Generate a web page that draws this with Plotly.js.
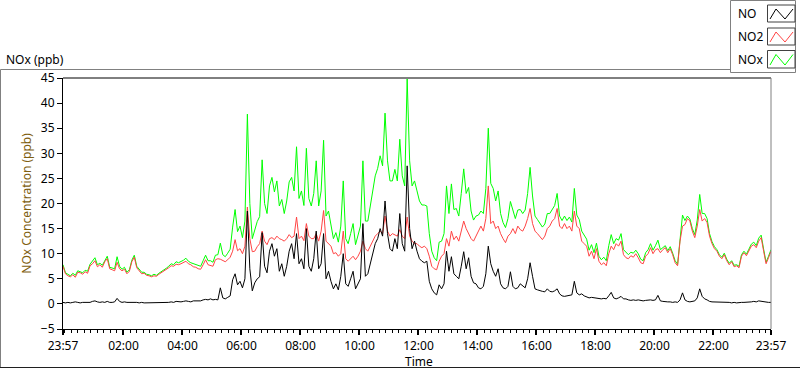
<!DOCTYPE html>
<html><head><meta charset="utf-8">
<script src="https://cdn.plot.ly/plotly-3.0.1.min.js"></script>
<style>html,body{margin:0;padding:0;background:#fff;}#chart{width:800px;height:369px;}</style>
</head><body><div id="chart"></div>
<script>
// ---- data (5-minute samples starting 23:57) ----
const startTime = Date.UTC(2000,0,1,23,57);
const stepMinutes = 5;

const seriesNames = ['NO','NO2','NOx'];

const noValues = [
0.3,0.2,0.3,0.2,0.3,0.4,0.3,0.2,0.3,0.3,
0.4,0.3,0.5,0.6,0.4,0.3,0.4,0.3,0.5,0.3,
0.3,0.4,1.1,0.5,0.3,0.4,0.3,0.3,0.3,0.4,
0.3,0.2,0.3,0.2,0.2,0.2,0.2,0.3,0.2,0.2,
0.2,0.3,0.2,0.3,0.4,0.3,0.5,0.4,0.4,0.5,
0.6,0.5,0.4,0.6,0.6,0.7,0.6,0.8,0.9,0.8,
1.0,0.8,
0.9,0.8,3.2,1.2,1.0,1.3,1.6,4.8,6.0,3.8,
4.5,3.2,5.0,18.5,7.0,2.6,4.2,5.0,5.4,14.2,
7.5,6.2,10.5,12.0,9.5,11.0,6.5,8.0,5.5,7.5,
10.5,12.0,9.0,14.0,8.0,9.0,7.0,15.0,7.5,
6.5,9.0,14.5,7.0,8.0,14.0,5.0,6.5,4.5,3.0,
4.0,2.8,5.5,10.0,4.0,3.5,5.0,6.5,3.0,4.0,
5.0,16.0,5.5,6.0,8.0,10.5,12.0,13.0,15.0,13.5,
20.5,14.0,11.0,10.5,13.0,11.0,18.0,12.0,10.5,27.5,
15.0,11.0,12.5,10.5,9.0,8.5,8.2,8.5,4.5,3.0,
2.2,1.8,3.8,3.0,4.0,10.5,6.5,9.4,6.0,5.5,
5.0,7.5,10.4,7.0,9.2,5.5,4.2,4.0,3.2,3.0,
3.5,6.0,11.5,8.0,6.5,5.5,7.0,4.0,3.2,3.0,
3.5,6.4,3.5,3.0,3.2,4.0,3.5,3.2,5.0,8.2,
5.5,3.0,2.8,2.6,2.5,2.4,3.0,2.5,2.4,2.6,
3.0,2.0,1.6,1.5,1.6,1.8,1.8,4.5,2.2,1.8,
2.0,1.6,1.4,1.2,1.3,1.2,1.1,1.0,1.0,1.1,
1.0,1.6,2.3,1.2,1.0,1.2,1.5,1.0,1.0,0.8,
0.7,0.8,0.7,0.8,0.7,0.6,0.7,0.8,0.8,0.7,
0.8,1.7,0.6,0.5,0.4,0.4,0.4,0.3,0.4,0.3,
0.8,2.2,0.8,0.5,0.4,0.5,0.6,1.2,3.0,1.5,
1.0,0.8,0.5,0.4,0.4,0.3,0.3,0.3,0.3,0.3,
0.3,0.2,0.3,0.2,0.3,0.3,0.3,0.3,0.4,0.4,
0.5,0.4,0.6,0.5,0.4,0.3,0.3,0.3
];

const no2Values = [
7.5,6.0,5.6,5.4,5.8,5.3,6.3,6.2,5.9,6.4,
6.1,7.6,8.0,8.6,7.4,7.8,7.3,8.4,9.0,7.0,
6.8,6.6,8.3,7.0,6.6,6.9,6.0,6.5,8.4,9.3,
7.2,6.6,6.0,6.1,5.7,5.6,5.4,5.6,5.5,5.9,
6.2,6.5,6.9,7.2,7.6,7.5,7.9,7.8,8.0,8.2,
8.5,8.0,7.8,7.4,7.3,7.0,6.9,7.8,8.8,7.8,
7.6,7.5,
8.8,9.0,8.9,8.6,8.4,8.8,9.3,10.5,12.8,10.6,
11.0,10.0,11.5,19.3,13.0,10.4,10.5,11.4,12.0,14.5,
12.5,11.8,13.0,13.2,12.8,13.5,13.0,12.8,12.5,13.0,
13.8,13.2,13.5,17.3,13.0,13.5,12.6,16.0,13.5,
13.0,13.0,14.0,12.5,14.5,18.6,12.5,12.0,11.5,10.0,
10.2,9.5,10.0,14.5,9.0,8.5,9.0,9.5,8.8,9.5,
10.5,12.5,11.0,10.5,11.5,12.5,13.5,14.0,14.5,14.0,
17.5,14.5,13.5,14.0,13.8,13.5,14.8,13.5,13.0,17.3,
13.5,12.5,12.0,12.0,11.5,11.2,11.5,11.0,9.5,7.5,
7.0,6.8,8.5,9.5,10.0,13.0,11.5,14.5,12.8,13.5,
12.5,14.5,16.5,15.0,14.0,13.0,12.5,13.5,14.5,15.5,
14.5,17.0,23.5,16.0,16.5,15.0,15.5,14.0,13.0,12.2,
13.5,14.0,15.0,14.0,15.5,14.8,14.5,15.5,17.0,19.0,
16.0,14.5,14.0,13.5,12.8,13.5,15.0,15.5,16.5,17.0,
19.0,15.5,15.0,16.0,15.0,15.5,14.5,18.5,15.5,15.0,
12.5,12.0,11.5,9.5,10.5,9.0,11.0,8.5,7.8,8.2,
7.6,10.0,11.5,10.8,12.0,11.5,12.5,9.8,9.2,9.0,
9.6,9.3,10.0,9.2,8.2,8.0,9.5,10.0,11.2,10.0,
10.8,11.0,10.2,10.8,11.2,10.2,11.0,9.8,8.2,7.6,
12.5,15.5,15.8,17.0,16.5,14.5,13.2,15.5,18.8,16.5,
17.0,16.2,13.5,12.0,11.0,10.5,9.5,9.0,9.8,8.6,
7.8,8.4,7.4,7.6,7.2,9.5,10.2,9.6,10.5,11.5,
11.8,11.2,12.5,13.2,10.5,8.0,9.2,10.5
];

const noxValues = [
7.8,6.2,5.9,5.6,6.1,5.7,6.6,6.4,6.2,6.7,
6.5,7.9,8.5,9.2,7.8,8.1,7.7,8.7,9.5,7.3,
7.1,7.0,9.4,7.5,6.9,7.3,6.3,6.8,8.7,9.7,
7.5,6.8,6.3,6.3,5.9,5.8,5.6,5.9,5.7,6.1,
6.4,6.8,7.1,7.5,8.0,7.8,8.4,8.2,8.4,8.7,
9.1,8.5,8.2,8.0,7.9,7.7,7.5,8.6,9.7,8.6,
8.6,8.3,
9.7,9.8,12.1,9.8,9.4,10.1,10.9,15.3,18.8,14.4,
15.5,13.2,16.5,37.8,20.0,13.0,14.7,16.4,17.4,28.7,
20.0,18.0,23.5,25.2,22.3,24.5,19.5,20.8,18.0,20.5,
24.3,25.2,22.5,31.3,21.0,22.5,19.6,31.0,21.0,
19.5,22.0,28.5,19.5,22.5,32.6,17.5,18.5,16.0,13.0,
14.2,12.3,15.5,24.5,13.0,12.0,14.0,16.0,11.8,13.5,
15.5,28.5,16.5,16.5,19.5,23.0,25.5,27.0,29.5,27.5,
38.0,28.5,24.5,24.5,26.8,24.5,32.8,25.5,23.5,44.8,
28.5,23.5,24.5,22.5,20.5,19.7,19.7,19.5,14.0,10.5,
9.2,8.6,12.3,12.5,14.0,23.5,18.0,23.9,18.8,19.0,
17.5,22.0,26.9,22.0,23.2,18.5,16.7,17.5,17.7,18.5,
18.0,23.0,35.0,24.0,23.0,20.5,22.5,18.0,16.2,15.2,
17.0,20.4,18.5,17.0,18.7,18.8,18.0,18.7,22.0,27.2,
21.5,17.5,16.8,16.1,15.3,15.9,18.0,18.0,18.9,19.6,
22.0,17.5,16.6,17.5,16.6,17.3,16.3,23.0,17.7,16.8,
14.5,13.6,12.9,10.7,11.8,10.2,12.1,9.5,8.8,9.3,
8.6,11.6,13.8,12.0,13.0,12.7,14.0,10.8,10.2,9.8,
10.3,10.1,10.7,10.0,8.9,8.6,10.2,10.8,12.0,10.7,
11.6,12.7,10.8,11.3,11.6,10.6,11.4,10.1,8.6,7.9,
13.3,17.7,16.6,17.5,16.9,15.0,13.8,16.7,21.8,18.0,
18.0,17.0,14.0,12.4,11.4,10.8,9.8,9.3,10.1,8.9,
8.1,8.6,7.7,7.8,7.5,9.8,10.5,9.9,10.9,11.9,
12.3,11.6,13.1,13.7,10.9,8.3,9.5,10.8
];

const xTickVals = ['2000-01-01 23:57','2000-01-02 02:00','2000-01-02 04:00','2000-01-02 06:00',
  '2000-01-02 08:00','2000-01-02 10:00','2000-01-02 12:00','2000-01-02 14:00','2000-01-02 16:00',
  '2000-01-02 18:00','2000-01-02 20:00','2000-01-02 22:00','2000-01-02 23:57'];
const xTickText = ['23:57','02:00','04:00','06:00','08:00','10:00','12:00','14:00','16:00','18:00','20:00','22:00','23:57'];
const yTickVals = [-5,0,5,10,15,20,25,30,35,40,45];

// ---- build ----
function fmt(ms){
  const d = new Date(ms);
  const p = n => String(n).padStart(2,'0');
  return d.getUTCFullYear()+'-'+p(d.getUTCMonth()+1)+'-'+p(d.getUTCDate())+' '+p(d.getUTCHours())+':'+p(d.getUTCMinutes())+':00';
}
const times = noValues.map((_,i)=>fmt(startTime + i*stepMinutes*60000));

const L=63, R=29, T=78, B=40, W=800, H=369;
const PW=W-L-R, PH=H-T-B;
const px = x => (x-L)/PW;
const py = y => (H-B-y)/PH;

const colors = {NO:'#000000', NO2:'#ff4444', NOx:'#00ff00'};
const traces = [
  {x:times, y:noxValues, name:'NOx', type:'scatter', mode:'lines', line:{color:colors.NOx, width:1}},
  {x:times, y:no2Values, name:'NO2', type:'scatter', mode:'lines', line:{color:colors.NO2, width:1}},
  {x:times, y:noValues, name:'NO', type:'scatter', mode:'lines', line:{color:colors.NO, width:1}}
];

const font = {family:'"Noto Sans", "Open Sans", sans-serif', size:12, color:'#000'};

const shapes = [
  {type:'line', xref:'paper', yref:'paper', x0:px(0.5), x1:px(730), y0:py(69.5), y1:py(69.5), line:{color:'#808080', width:1}},
  {type:'line', xref:'paper', yref:'paper', x0:px(0.5), x1:px(0.5), y0:py(69.5), y1:py(367.5), line:{color:'#808080', width:1}},
  {type:'line', xref:'paper', yref:'paper', x0:px(0), x1:px(800), y0:py(367.5), y1:py(367.5), line:{color:'#202020', width:1}},
  {type:'line', xref:'paper', yref:'paper', x0:0, x1:1, y0:1, y1:1, line:{color:'#000', width:1}},
  {type:'line', xref:'paper', yref:'paper', x0:1, x1:1, y0:0, y1:1, line:{color:'#808080', width:1}},
  {type:'rect', xref:'paper', yref:'paper', x0:px(730.5), x1:px(795.5), y0:py(0.5), y1:py(72.5), line:{color:'#808080', width:1}, fillcolor:'#fff'}
];
const annotations = [
  {text:'NOx (ppb)', xref:'paper', yref:'paper', x:px(4), y:py(59), xanchor:'left', yanchor:'middle', showarrow:false, font:font},
  {text:'Time', xref:'paper', yref:'paper', x:px(419.5), y:py(362), xanchor:'center', yanchor:'middle', showarrow:false, font:font}
];
const legendRows = [{n:'NO', y0:5, y1:22}, {n:'NO2', y0:28, y1:45}, {n:'NOx', y0:50.5, y1:68}];
legendRows.forEach(r=>{
  shapes.push({type:'rect', xref:'paper', yref:'paper', x0:px(767.5), x1:px(795), y0:py(r.y0), y1:py(r.y1), line:{color:'#404040', width:1}, fillcolor:'#fff'});
  const yb=r.y1-3, yt=r.y0+4;
  const pts=[[770,yb],[776,yt],[785,yb],[793,yt]];
  const path='M '+pts.map(p=>px(p[0])+','+py(p[1])).join(' L ');
  shapes.push({type:'path', xref:'paper', yref:'paper', path:path, line:{color:colors[r.n], width:1}});
  annotations.push({text:r.n, xref:'paper', yref:'paper', x:px(736), y:py((r.y0+r.y1)/2), xanchor:'left', yanchor:'middle', showarrow:false, font:font});
});

const layout = {
  width:W, height:H,
  margin:{l:L, r:R, t:T, b:B, pad:0},
  paper_bgcolor:'#fff', plot_bgcolor:'#fff',
  showlegend:false,
  font:font,
  xaxis:{
    type:'date', range:[xTickVals[0], xTickVals[xTickVals.length-1]],
    tickmode:'array', tickvals:xTickVals, ticktext:xTickText,
    ticks:'outside', ticklen:5, tickwidth:2, tickcolor:'#000', ticklabelstandoff:1,
    showgrid:false, zeroline:false, showline:true, linecolor:'#000', linewidth:1,
    minor:{ticks:'outside', ticklen:3, tickwidth:1, tickcolor:'#000', dtick:800000, tick0:'2000-01-02 02:00', showgrid:false},
    tickfont:font
  },
  yaxis:{
    range:[-5,45], tickmode:'array', tickvals:yTickVals,
    ticks:'outside', ticklen:5, tickwidth:1, tickcolor:'#000',
    showgrid:false, zeroline:false, showline:true, linecolor:'#000', linewidth:1,
    tickfont:font,
    title:{text:'NOx Concentration (ppb)', font:{family:font.family, size:12, color:'#806010'}, standoff:6}
  },
  shapes:shapes, annotations:annotations
};
Plotly.newPlot('chart', traces, layout, {staticPlot:true, displayModeBar:false});
</script>
</body></html>
